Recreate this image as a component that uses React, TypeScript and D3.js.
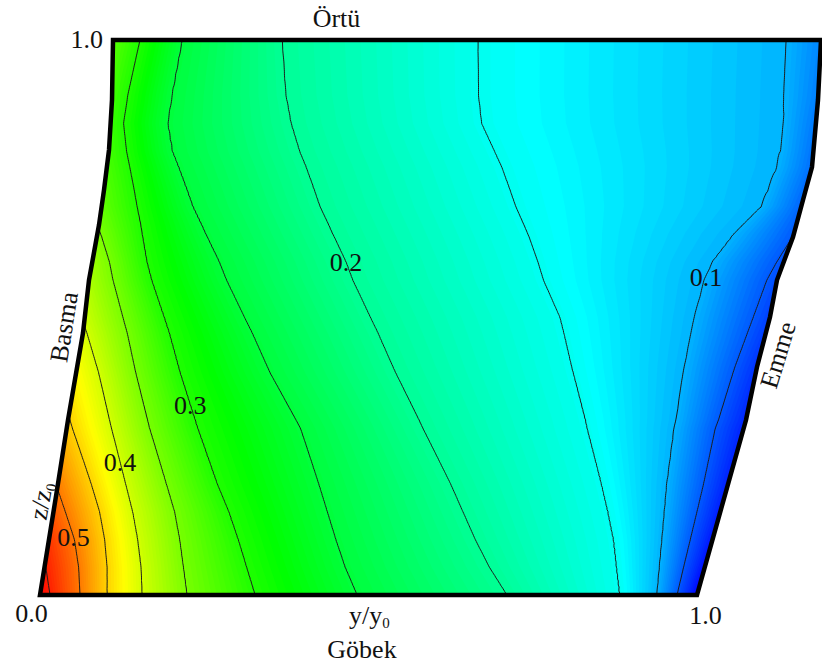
import React, { useMemo } from "react";
import * as d3 from "d3";

// ---------- DATA ----------
// z/z0 rows on which the contour crossings were read
const zRows = [0, 0.05, 0.1, 0.15, 0.2, 0.3, 0.4, 0.5, 0.6, 0.65, 0.7, 0.8, 0.85, 0.9, 1.0];
// contour levels drawn as lines
const contourLevels = [0.05, 0.1, 0.15, 0.2, 0.25, 0.3, 0.35, 0.4, 0.45, 0.5, 0.55];
// y/y0 position where each level crosses each row (null = no crossing)
const c05 = [0.9696, 0.9679, 0.9665, 0.965, 0.9634, 0.958, 0.9665, 0.9756, 0.9899, null, null, null, null, null, null];
const c10 = [0.9391, 0.9314, 0.9239, 0.9162, 0.9087, 0.8975, 0.8935, 0.8899, 0.897, 0.9139, 0.9435, 0.9534, 0.9539, 0.9524, 0.952];
const c15 = [0.8828, 0.8669, 0.8511, 0.8317, 0.8113, 0.7692, 0.7318, 0.6938, 0.6446, 0.6183, 0.5918, 0.5469, 0.5257, 0.5185, 0.5155];
const c20 = [0.7108, 0.6739, 0.6424, 0.614, 0.5859, 0.5262, 0.4702, 0.4169, 0.3669, 0.338, 0.3119, 0.2704, 0.2558, 0.2459, 0.2387];
const c25 = [0.4825, 0.4552, 0.4321, 0.4105, 0.3891, 0.3454, 0.2854, 0.233, 0.1835, 0.1556, 0.1301, 0.0896, 0.0807, 0.0843, 0.0975];
const c30 = [0.3272, 0.3059, 0.2849, 0.2626, 0.2374, 0.1934, 0.1529, 0.1157, 0.0788, 0.0643, 0.0506, 0.025, 0.0183, 0.0221, 0.0381];
const c35 = [0.2237, 0.2102, 0.1968, 0.1815, 0.1617, 0.1225, 0.0878, 0.0558, 0.0249, 0.0052, null, null, null, null, null];
const c40 = [0.1553, 0.1461, 0.1335, 0.1186, 0.1009, 0.0663, 0.0333, null, null, null, null, null, null, null, null];
const c45 = [0.102, 0.0947, 0.0838, 0.0691, 0.0497, 0.0086, null, null, null, null, null, null, null, null, null];
const c50 = [0.0609, 0.0518, 0.0384, 0.0178, null, null, null, null, null, null, null, null, null, null, null];
const c55 = [0.0152, null, null, null, null, null, null, null, null, null, null, null, null, null, null];
const crossings = [c05, c10, c15, c20, c25, c30, c35, c40, c45, c50, c55];
// values on the pressure side (Basma, y/y0 = 0) and suction side (Emme, y/y0 = 1)
const basmaValues = [0.567, 0.552, 0.537, 0.517, 0.497, 0.457, 0.427, 0.396, 0.37, 0.353, 0.338, 0.319, 0.315, 0.318, 0.332];
const emmeValues = [0.0, 0.006, 0.011, 0.014, 0.016, 0.018, 0.026, 0.035, 0.045, 0.05, 0.056, 0.063, 0.066, 0.07, 0.074];
// labelled contours and the z/z0 where each label sits
const labelLevels = [0.5, 0.4, 0.3, 0.2, 0.1];
const labelZ = [0.105, 0.24, 0.342, 0.6, 0.573];
// colour map stops
const colorStops = [0, 0.142, 0.283, 0.425, 0.567];
const colorRange = ["#0000ff", "#00ffff", "#00ff00", "#ffff00", "#ff0000"];

// ---------- LAYOUT ----------
const W = 822, H = 669;
const yBottom = 595, yTop = 40;
// blade edges in pixels: [screenY, screenX]
const basmaEdgePx: [number, number][] = [[595, 40], [490, 57], [420, 68], [333, 83], [280, 89], [225, 99], [190, 104], [150, 109], [100, 112], [40, 113]];
const emmeEdgePx: [number, number][] = [[595, 697], [420, 746], [367, 757], [317, 770], [280, 777], [237, 793], [200, 803], [167, 812], [100, 818], [40, 821]];
const FONT = "'Liberation Serif', 'Times New Roman', Times, serif";
const FS = 26;

export default function App() {
  const content = useMemo(() => {
    const zScale = d3.scaleLinear().domain([0, 1]).range([yBottom, yTop]);
    const xLeft = d3.scaleLinear().domain(basmaEdgePx.map((p) => p[0])).range(basmaEdgePx.map((p) => p[1]));
    const xRight = d3.scaleLinear().domain(emmeEdgePx.map((p) => p[0])).range(emmeEdgePx.map((p) => p[1]));
    const toScreen = (u: number, v: number): [number, number] => {
      const y = zScale(v);
      const xl = xLeft(y), xr = xRight(y);
      return [xl + u * (xr - xl), y];
    };
    const color = d3.scaleLinear<string>().domain(colorStops).range(colorRange).clamp(true);

    // crossing positions per row, with virtual (outside-domain) positions for levels that miss a row
    const U: number[][] = contourLevels.map(() => new Array(zRows.length).fill(0));
    zRows.forEach((_, r) => {
      const present = contourLevels
        .map((lv, k) => ({ lv, k, u: crossings[k][r] }))
        .filter((o) => o.u != null) as { lv: number; k: number; u: number }[];
      present.sort((a, b) => a.u - b.u);
      const first = present[0], last = present[present.length - 1];
      const sL = (basmaValues[r] - first.lv) / first.u;
      const sR = (last.lv - emmeValues[r]) / (1 - last.u);
      contourLevels.forEach((lv, k) => {
        const c = crossings[k][r];
        if (c != null) U[k][r] = c;
        else if (lv > first.lv) U[k][r] = -(lv - basmaValues[r]) / Math.max(sL, 1e-3);
        else U[k][r] = 1 + (emmeValues[r] - lv) / Math.max(sR, 1e-3);
      });
    });

    const profileAt = (v: number) => {
      let r = d3.bisectRight(zRows, v) - 1;
      if (r < 0) r = 0;
      if (r >= zRows.length - 1) r = zRows.length - 2;
      const t = (v - zRows[r]) / (zRows[r + 1] - zRows[r]);
      const lerp = (a: number, b: number) => a * (1 - t) + b * t;
      const pts: [number, number][] = [[0, lerp(basmaValues[r], basmaValues[r + 1])]];
      contourLevels.forEach((lv, k) => {
        const u = lerp(U[k][r], U[k][r + 1]);
        if (u > 1e-4 && u < 1 - 1e-4) pts.push([u, lv]);
      });
      pts.push([1, lerp(emmeValues[r], emmeValues[r + 1])]);
      pts.sort((a, b) => a[0] - b[0]);
      return d3.scaleLinear().domain(pts.map((p) => p[0])).range(pts.map((p) => p[1]));
    };

    const nu = 280, nv = 280;
    const values = new Array(nu * nv);
    for (let j = 0; j < nv; j++) {
      const prof = profileAt(j / (nv - 1));
      for (let i = 0; i < nu; i++) values[j * nu + i] = prof(i / (nu - 1));
    }
    const gridToScreen = (p: number[]) => {
      const u = Math.min(1, Math.max(0, (p[0] - 0.5) / (nu - 1)));
      const v = Math.min(1, Math.max(0, (p[1] - 0.5) / (nv - 1)));
      const s = toScreen(u, v);
      return s[0].toFixed(1) + "," + s[1].toFixed(1);
    };
    const mpPath = (mp: d3.ContourMultiPolygon) =>
      mp.coordinates
        .map((poly) => poly.map((ring) => "M" + ring.map(gridToScreen).join("L") + "Z").join(""))
        .join("");

    const step = 0.004;
    const bandThresholds = d3.range(step, 0.57, step);
    const bands = d3.contours().size([nu, nv]).thresholds(bandThresholds)(values).map((c) => ({
      d: mpPath(c),
      fill: color(c.value + step / 2),
    }));
    const lines = d3.contours().size([nu, nv]).thresholds(contourLevels)(values).map((c) => mpPath(c));

    // domain outline
    const ptsLeft = basmaEdgePx.map((p) => [p[1], p[0]]);
    const ptsRight = emmeEdgePx.slice().reverse().map((p) => [p[1], p[0]]);
    const outline = "M" + ptsLeft.concat(ptsRight).map((p) => p.join(",")).join("L") + "Z";

    // contour labels: y/y0 where the field equals the level on the label's row
    const labels = labelLevels.map((lv, k) => {
      const v = labelZ[k];
      const prof = profileAt(v);
      let lo = 0, hi = 1;
      for (let it = 0; it < 40; it++) {
        const mid = (lo + hi) / 2;
        if (prof(mid) > lv) lo = mid; else hi = mid;
      }
      const s = toScreen((lo + hi) / 2, v);
      return { text: lv.toFixed(1), x: s[0], y: s[1] };
    });

    return { bands, lines, outline, labels, base: color(0) };
  }, []);

  return (
    <svg width={W} height={H} style={{ position: "absolute", left: 0, top: 0, display: "block" }} fontFamily={FONT}>
      <rect width={W} height={H} fill="#ffffff" />
      <path d={content.outline} fill={content.base} />
      {content.bands.map((b, i) => (
        <path key={i} d={b.d} fill={b.fill} stroke="none" />
      ))}
      {content.lines.map((d, i) => (
        <path key={"l" + i} d={d} fill="none" stroke="#1c1c1c" strokeWidth={1} />
      ))}
      {content.labels.map((l, i) => (
        <text key={"t" + i} x={l.x} y={l.y + 9} fontSize={FS} textAnchor="middle" fill="#111">
          {l.text}
        </text>
      ))}
      <path d={content.outline} fill="none" stroke="#000" strokeWidth={4.5} strokeLinejoin="miter" />

      <text x={336.5} y={27} fontSize={FS} textAnchor="middle" fill="#111">Örtü</text>
      <text x={103} y={47.5} fontSize={FS} textAnchor="end" fill="#111">1.0</text>
      <text x={31.5} y={622} fontSize={FS} textAnchor="middle" fill="#111">0.0</text>
      <text x={705.5} y={624} fontSize={FS} textAnchor="middle" fill="#111">1.0</text>
      <text x={349} y={624} fontSize={FS} fill="#111">
        y/y<tspan fontSize={15} dy={4}>0</tspan>
      </text>
      <text x={362} y={658} fontSize={FS} textAnchor="middle" fill="#111">Göbek</text>
      <text transform="translate(64,327) rotate(-81)" fontSize={FS} textAnchor="middle" dy="0.33em" fill="#111">Basma</text>
      <text transform="translate(41,501) rotate(-80)" fontSize={FS} textAnchor="middle" dy="0.33em" fill="#111">
        z/z<tspan fontSize={15} dy={4}>0</tspan>
      </text>
      <text transform="translate(778,355) rotate(-73)" fontSize={FS} textAnchor="middle" dy="0.33em" fill="#111">Emme</text>
    </svg>
  );
}
